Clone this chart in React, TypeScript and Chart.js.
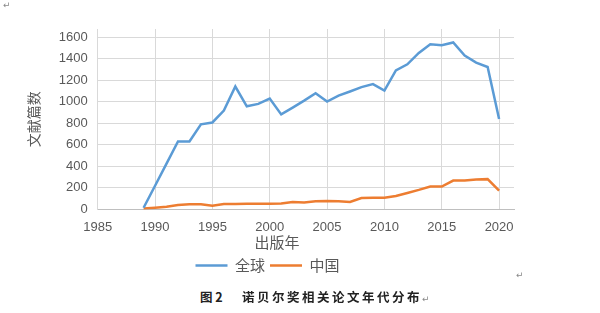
import React, { useEffect, useRef } from 'react';
import { Chart, registerables } from 'chart.js';

Chart.register(...registerables);

const years = [1989, 1990, 1991, 1992, 1993, 1994, 1995, 1996, 1997, 1998, 1999, 2000, 2001, 2002, 2003, 2004, 2005, 2006, 2007, 2008, 2009, 2010, 2011, 2012, 2013, 2014, 2015, 2016, 2017, 2018, 2019, 2020];
const globalCounts = [15, 220, 425, 630, 630, 790, 807, 917, 1141, 957, 980, 1029, 882, 945, 1010, 1079, 1001, 1057, 1095, 1135, 1163, 1104, 1291, 1347, 1453, 1534, 1525, 1550, 1428, 1363, 1322, 839];
const chinaCounts = [8, 16, 25, 40, 47, 47, 35, 50, 50, 53, 52, 53, 55, 68, 65, 75, 78, 75, 69, 106, 109, 109, 125, 153, 181, 212, 212, 268, 268, 278, 281, 175];
const xTickValues = [1985, 1990, 1995, 2000, 2005, 2010, 2015, 2020];
const yTickValues = [0, 200, 400, 600, 800, 1000, 1200, 1400, 1600];

const seriesNames = ['全球', '中国'];
const xTitle = '出版年';
const yTitle = '文献篇数';
const captionLabel = '图 2';
const captionText = '诺贝尔奖相关论文年代分布';

const CJK = '"Noto Sans CJK SC", "Noto Sans", sans-serif';
const NUM = '"Liberation Sans", Arial, sans-serif';

const xTitlePlugin = {
  id: 'xTitleDraw',
  afterDraw(chart: any) {
    const ctx = chart.ctx;
    const area = chart.chartArea;
    ctx.save();
    ctx.font = '15px ' + CJK;
    ctx.fillStyle = '#595959';
    ctx.textAlign = 'center';
    ctx.textBaseline = 'middle';
    ctx.fillText(xTitle, 277, area.bottom + 33);
    ctx.restore();
  },
};

function LineChart() {
  const ref = useRef<HTMLCanvasElement | null>(null);
  useEffect(() => {
    if (!ref.current) return;
    const chart = new Chart(ref.current, {
      type: 'line',
      data: {
        datasets: [
          {
            label: seriesNames[0],
            data: years.map((y, i) => ({ x: y, y: globalCounts[i] })),
            borderColor: '#5B9BD5',
            backgroundColor: '#5B9BD5',
            borderWidth: 2.5,
            pointRadius: 0,
            tension: 0,
            fill: false,
          },
          {
            label: seriesNames[1],
            data: years.map((y, i) => ({ x: y, y: chinaCounts[i] })),
            borderColor: '#ED7D31',
            backgroundColor: '#ED7D31',
            borderWidth: 2.5,
            pointRadius: 0,
            tension: 0,
            fill: false,
          },
        ],
      },
      options: {
        animation: false,
        responsive: false,
        layout: { padding: { left: 21, right: 86, top: 29, bottom: 2 } },
        plugins: {
          tooltip: { enabled: false },
          legend: {
            position: 'bottom',
            labels: {
              usePointStyle: true,
              pointStyle: 'line',
              pointStyleWidth: 32,
              padding: 5,
              color: '#595959',
              font: { family: CJK, size: 15 },
            },
          },
        },
        scales: {
          x: {
            type: 'linear',
            min: 1985,
            max: 2021.3,
            afterBuildTicks: (scale: any) => {
              scale.ticks = xTickValues.map((v) => ({ value: v }));
            },
            afterFit: (scale: any) => {
              scale.height += 8;
            },
            ticks: {
              padding: 10,
              color: '#595959',
              font: { family: NUM, size: 13 },
              callback: (v: any) => String(v),
              maxRotation: 0,
            },
            grid: { color: '#d9d9d9', drawTicks: false, lineWidth: 1 },
            border: { color: '#bfbfbf' },
          },
          y: {
            type: 'linear',
            min: 0,
            max: 1675,
            afterBuildTicks: (scale: any) => {
              scale.ticks = yTickValues.map((v) => ({ value: v }));
            },
            ticks: {
              padding: 10,
              color: '#595959',
              font: { family: NUM, size: 13 },
              callback: (v: any) => String(v),
            },
            title: {
              display: true,
              text: yTitle,
              color: '#595959',
              font: { family: CJK, size: 14 },
              padding: { top: 4, bottom: 7 },
            },
            grid: { color: '#d9d9d9', drawTicks: false, lineWidth: 1 },
            border: { color: '#d9d9d9' },
          },
        },
      },
      plugins: [xTitlePlugin],
    } as any);
    return () => chart.destroy();
  }, []);
  return <canvas ref={ref} width={600} height={285} style={{ position: 'absolute', left: 0, top: 0, width: 600, height: 285 }} />;
}

export default function App() {
  return (
    <div style={{ position: 'fixed', left: 0, top: 0, width: 600, height: 313, background: '#fff', overflow: 'hidden' }}>
      <LineChart />
      <div style={{ position: 'absolute', left: 3, top: 0, fontFamily: '"DejaVu Sans", sans-serif', fontSize: 9, color: '#888', lineHeight: '10px' }}>↵</div>
      <div style={{ position: 'absolute', left: 516, top: 270, fontFamily: '"DejaVu Sans", sans-serif', fontSize: 9, color: '#888', lineHeight: '10px' }}>↵</div>
      <div style={{ position: 'absolute', left: 200, top: 289, fontFamily: CJK, fontWeight: 700, fontSize: 12.5, color: '#222', lineHeight: '15px', whiteSpace: 'nowrap' }}>{captionLabel}</div>
      <div style={{ position: 'absolute', left: 242, top: 289, fontFamily: CJK, fontWeight: 700, fontSize: 12.5, letterSpacing: 2.5, color: '#222', lineHeight: '15px', whiteSpace: 'nowrap' }}>
        {captionText}
        <span style={{ fontFamily: '"DejaVu Sans", sans-serif', fontWeight: 400, fontSize: 9, color: '#888', letterSpacing: 0 }}>↵</span>
      </div>
    </div>
  );
}
